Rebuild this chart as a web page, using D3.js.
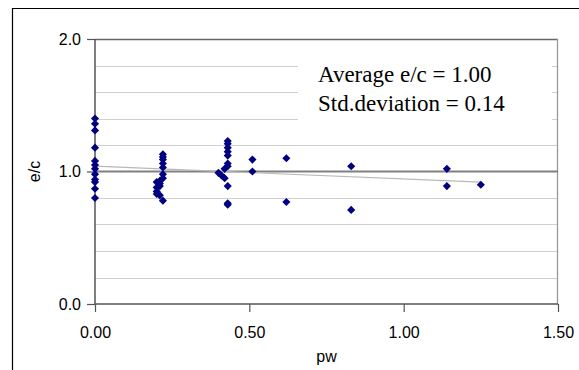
<!DOCTYPE html>
<html><head><meta charset="utf-8">
<script src="https://cdn.jsdelivr.net/npm/d3@7"></script>
<style>body{margin:0;background:#fff}svg{display:block}</style>
</head><body>
<script>
// Data (pw, e/c)
const pwValues = [
  0,0,0,0,0,0,0,0,0,0,0,0,
  0.22,0.22,0.22,0.22,0.22,0.22,0.22,0.21,0.21,0.21,0.20,0.20,0.20,0.20,0.21,0.22,
  0.43,0.43,0.43,0.43,0.43,0.43,0.43,0.42,0.40,0.41,0.42,0.43,0.43,0.43,
  0.51,0.51,0.62,0.62,0.83,0.83,1.14,1.14,1.25
];
const ecValues = [
  1.40,1.36,1.31,1.18,1.08,1.05,1.02,0.98,0.94,0.92,0.87,0.80,
  1.13,1.11,1.09,1.06,1.03,0.98,0.95,0.93,0.91,0.89,0.92,0.88,0.85,0.83,0.82,0.78,
  1.23,1.21,1.18,1.15,1.12,1.06,1.04,1.02,0.99,0.97,0.95,0.89,0.76,0.75,
  1.09,1.00,1.10,0.77,1.04,0.71,1.02,0.89,0.90
];
const xTicks = [0, 0.5, 1.0, 1.5];
const yTicks = [0, 1, 2];
const yGrid = [0.2,0.4,0.6,0.8,1.2,1.4,1.6,1.8];
const refLine = [[0,1.0],[1.5,1.0]];
const trendEnds = [[0,1.04],[1.25,0.92]];
const noteLines = ["Average e/c = 1.00", "Std.deviation = 0.14"];
const xTitle = "pw", yTitle = "e/c";

const W = 579, H = 370;
const L = 95, R = 558, T = 39, B = 304;
const svg = d3.select("body").append("svg").attr("width", W).attr("height", H);
const x = d3.scaleLinear().domain([0,1.5]).range([L,R]);
const y = d3.scaleLinear().domain([0,2]).range([B,T]);

// outer chart border
svg.append("path").attr("d", `M12.5,${H+2}V8.5H${W+2}`).attr("fill","none").attr("stroke","#000").attr("stroke-width",1.2);

// gridlines
svg.append("g").selectAll("line").data(yGrid).join("line")
  .attr("x1",L).attr("x2",R).attr("y1",d=>Math.round(y(d))+0.5).attr("y2",d=>Math.round(y(d))+0.5)
  .attr("stroke","#d0d0d0").attr("stroke-width",1);

// plot frame (top and right)
svg.append("line").attr("x1",L).attr("x2",R).attr("y1",T+0.5).attr("y2",T+0.5).attr("stroke","#666").attr("stroke-width",1.3);
svg.append("line").attr("x1",R-0.5).attr("x2",R-0.5).attr("y1",T).attr("y2",B).attr("stroke","#999").attr("stroke-width",1.3);

// text box background
svg.append("rect").attr("x",298).attr("y",50).attr("width",254).attr("height",80).attr("fill","#fff");

// axes
const xAxis = d3.axisBottom(x).tickValues(xTicks).tickFormat(d3.format(".2f")).tickSize(8).tickPadding(15);
const yAxis = d3.axisLeft(y).tickValues(yTicks).tickFormat(d3.format(".1f")).tickSize(8).tickPadding(6);
const gx = svg.append("g").attr("transform",`translate(0,${B})`).call(xAxis);
const gy = svg.append("g").attr("transform",`translate(${L},0)`).call(yAxis);
[gx,gy].forEach(g=>{
  g.select(".domain").attr("stroke","#555").attr("stroke-width",1.5);
  g.selectAll(".tick line").attr("stroke","#555").attr("stroke-width",1.2);
  g.selectAll(".tick text").attr("font-family","Liberation Sans, Arial, sans-serif").attr("font-size",16).attr("fill","#000");
});
gx.select(".domain").attr("d",`M${L},0H${R}`);
gy.select(".domain").attr("d",`M0,${B}V${T}`);

// reference line at 1.0
svg.append("path").datum(refLine)
  .attr("d", d3.line().x(d=>x(d[0])).y(d=>y(d[1])))
  .attr("stroke","#808080").attr("stroke-width",2).attr("fill","none");

// trend line
svg.append("path").datum(trendEnds)
  .attr("d", d3.line().x(d=>x(d[0])).y(d=>y(d[1])))
  .attr("stroke","#b8b8b8").attr("stroke-width",1.2).attr("fill","none");

// points
const sym = d3.symbol().type(d3.symbolDiamond2).size(42);
svg.append("g").selectAll("path").data(pwValues.map((p,i)=>[p,ecValues[i]])).join("path")
  .attr("d", sym)
  .attr("transform", d=>`translate(${x(d[0])},${y(d[1])})`)
  .attr("fill","#000080");

// note text
svg.append("g").selectAll("text").data(noteLines).join("text")
  .attr("x",318).attr("y",(d,i)=>82+i*29)
  .attr("font-family","Liberation Serif, Times New Roman, serif").attr("font-size",23).attr("fill","#000")
  .text(d=>d);

// axis titles
svg.append("text").attr("x",(L+R)/2).attr("y",362).attr("text-anchor","middle")
  .attr("font-family","Liberation Sans, Arial, sans-serif").attr("font-size",16).text(xTitle);
svg.append("text").attr("transform",`translate(40,${y(1)}) rotate(-90)`).attr("text-anchor","middle")
  .attr("font-family","Liberation Sans, Arial, sans-serif").attr("font-size",16).text(yTitle);
</script>
</body></html>
